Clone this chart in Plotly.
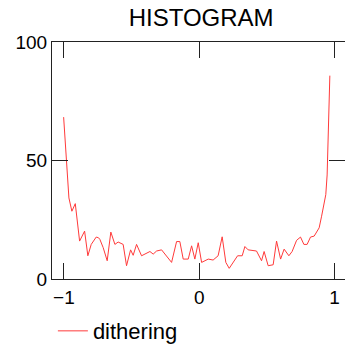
import plotly.graph_objects as go

# data
x_vals = [-1.002, -0.983, -0.963, -0.941, -0.916, -0.884, -0.847, -0.823, -0.798, -0.761,
          -0.744, -0.734, -0.710, -0.680, -0.653, -0.623, -0.599, -0.562, -0.537, -0.507,
          -0.488, -0.463, -0.426, -0.364, -0.340, -0.315, -0.290, -0.278, -0.204, -0.167,
          -0.143, -0.118, -0.081, -0.056, -0.032, -0.007, 0.018, 0.067, 0.103, 0.140,
          0.170, 0.197, 0.222, 0.284, 0.318, 0.338, 0.362, 0.424, 0.461, 0.480,
          0.510, 0.547, 0.572, 0.602, 0.628, 0.663, 0.687, 0.720, 0.749, 0.774,
          0.798, 0.823, 0.850, 0.887, 0.905, 0.916, 0.936, 0.946, 0.966]
y_vals = [68.3, 50.0, 34.2, 28.6, 31.8, 16.0, 20.2, 9.8, 14.6, 17.7,
          17.4, 16.7, 13.3, 7.7, 19.8, 14.6, 15.6, 14.6, 5.6, 12.3,
          10.0, 14.6, 9.8, 11.6, 10.5, 11.8, 12.1, 12.3, 7.0, 15.8,
          15.8, 8.4, 8.4, 14.0, 8.4, 15.3, 7.0, 8.4, 8.0, 9.8,
          17.8, 7.0, 4.5, 9.8, 9.8, 13.7, 12.3, 11.8, 7.7, 11.6,
          5.6, 6.0, 16.0, 8.4, 12.6, 9.8, 11.6, 16.3, 17.7, 14.6,
          14.6, 17.7, 18.1, 21.6, 26.5, 30.0, 35.6, 43.9, 85.8]
series_name = "dithering"
title_text = "HISTOGRAM"
x_ticks = [-1, 0, 1]
x_ticklabels = ["\u22121", "0", "1"]
y_ticks = [0, 50, 100]

FONT = "Liberation Sans, Arial, sans-serif"
AX = "#222222"

fig = go.Figure()
fig.add_trace(go.Scatter(x=x_vals, y=y_vals, mode="lines", name=series_name,
                         line=dict(color="#ff3a3a", width=1)))

fig.update_layout(
    template="none",
    width=345, height=349,
    margin=dict(l=52, r=0, t=42, b=70, autoexpand=False),
    paper_bgcolor="white", plot_bgcolor="white",
    font=dict(family=FONT, size=19, color="black"),
    title=dict(text=title_text, x=0.509, xanchor="center", y=0.95, yanchor="middle",
               xref="paper", yref="container",
               font=dict(family=FONT, size=24, color="black")),
    showlegend=True,
    legend=dict(orientation="h", x=0.003, xanchor="left", y=-0.131, yanchor="top",
                font=dict(family=FONT, size=22, color="black"),
                bgcolor="rgba(0,0,0,0)", itemwidth=30),
    xaxis=dict(range=[-1.088, 1.078], tickvals=x_ticks, ticktext=x_ticklabels,
               ticks="inside", ticklen=16, tickcolor=AX, tickwidth=1,
               showline=True, linecolor=AX, linewidth=1, mirror="ticks",
               showgrid=False, zeroline=False, automargin=False,
               ticklabelstandoff=1,
               tickfont=dict(family=FONT, size=19)),
    yaxis=dict(range=[0, 100], tickvals=y_ticks,
               ticks="inside", ticklen=16, tickcolor=AX, tickwidth=1,
               showline=True, linecolor=AX, linewidth=1, mirror="ticks",
               showgrid=False, zeroline=False, automargin=False,
               tickfont=dict(family=FONT, size=19)),
)

fig.write_html("out.html", config={"displayModeBar": False},
               post_script="document.body.style.margin='0';document.body.style.overflow='hidden';")
